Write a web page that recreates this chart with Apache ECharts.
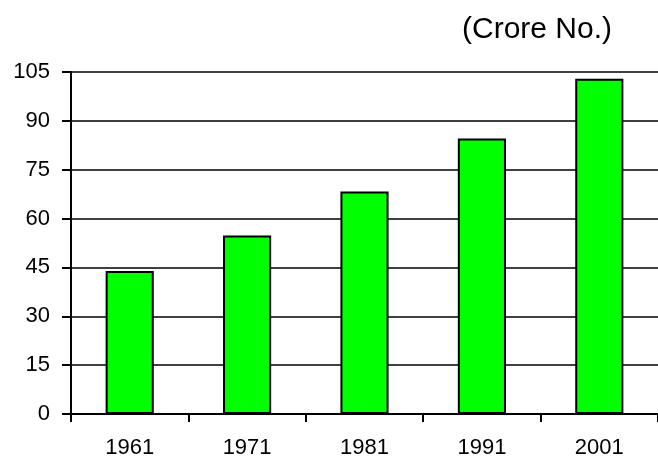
<!DOCTYPE html>
<html>
<head>
<meta charset="utf-8">
<script src="https://cdn.jsdelivr.net/npm/echarts@6/dist/echarts.min.js"></script>
<style>html,body{margin:0;padding:0;background:#fff;}#c{width:658px;height:459px;}</style>
</head>
<body>
<div id="c"></div>
<script>
var categories = ['1961', '1971', '1981', '1991', '2001'];
var population = [43.9, 54.8, 68.3, 84.6, 102.9];
var unitLabel = '(Crore No.)';

var chart = echarts.init(document.getElementById('c'), null, {renderer: 'canvas'});
chart.setOption({
  animation: false,
  backgroundColor: '#ffffff',
  title: {
    text: unitLabel,
    left: 462,
    top: 15,
    padding: 0,
    textStyle: {fontFamily: 'Liberation Sans, Arial, sans-serif', fontSize: 30, fontWeight: 'normal', color: '#000'}
  },
  grid: {left: 71, right: 0, top: 72, bottom: 43, containLabel: false},
  xAxis: {
    type: 'category',
    data: categories,
    boundaryGap: true,
    axisLine: {show: true, lineStyle: {color: '#000', width: 2}},
    axisTick: {show: true, alignWithLabel: false, length: 8, lineStyle: {color: '#000', width: 2}},
    axisLabel: {margin: 23, fontFamily: 'Liberation Sans, Arial, sans-serif', fontSize: 22, color: '#000'},
    splitLine: {show: false}
  },
  yAxis: {
    type: 'value',
    min: 0, max: 105, interval: 15,
    axisLine: {show: true, lineStyle: {color: '#000', width: 2}},
    axisTick: {show: true, length: 9, lineStyle: {color: '#000', width: 2}},
    axisLabel: {margin: 21, fontFamily: 'Liberation Sans, Arial, sans-serif', fontSize: 22, color: '#000'},
    splitLine: {show: true, lineStyle: {color: '#000', width: 1.5}}
  },
  series: [{
    type: 'bar',
    data: population,
    barWidth: '41%',
    itemStyle: {color: '#00ff00', borderColor: '#000', borderWidth: 2}
  }]
});
</script>
</body>
</html>
